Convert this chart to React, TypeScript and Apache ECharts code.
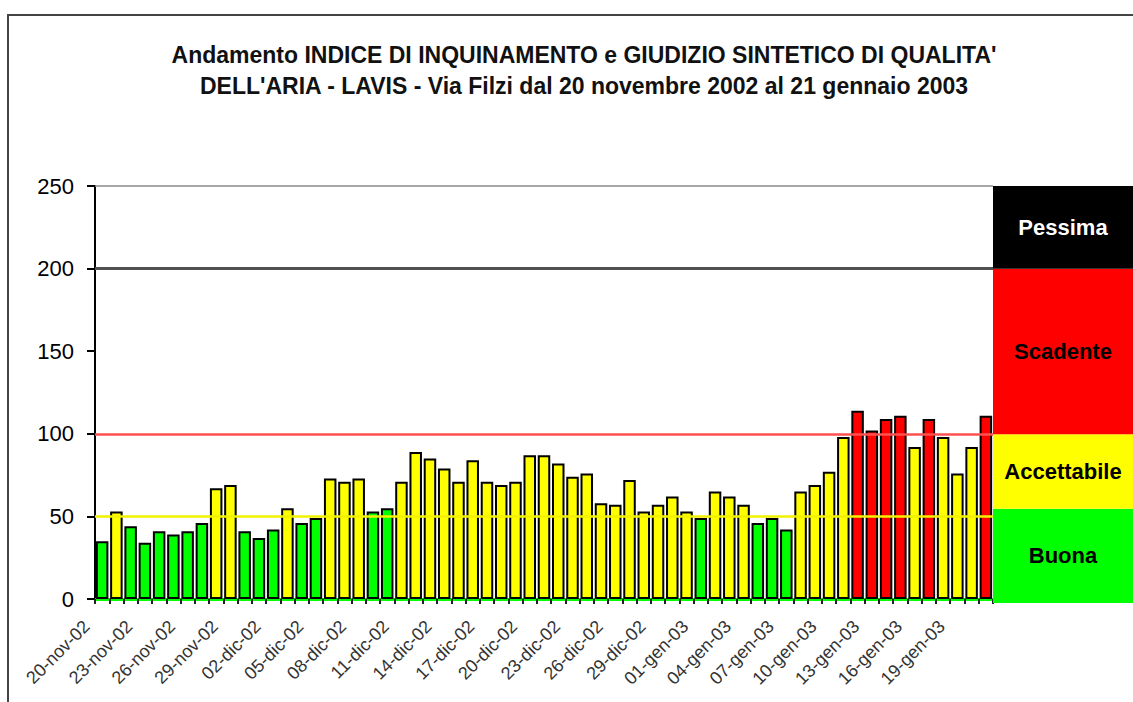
import React, { useEffect, useRef } from "react";
import * as echarts from "echarts";

const days = [
  "20-nov-02", "21-nov-02", "22-nov-02", "23-nov-02", "24-nov-02", "25-nov-02", "26-nov-02", "27-nov-02", "28-nov-02", "29-nov-02", "30-nov-02",
  "01-dic-02", "02-dic-02", "03-dic-02", "04-dic-02", "05-dic-02", "06-dic-02", "07-dic-02", "08-dic-02", "09-dic-02", "10-dic-02",
  "11-dic-02", "12-dic-02", "13-dic-02", "14-dic-02", "15-dic-02", "16-dic-02", "17-dic-02", "18-dic-02", "19-dic-02", "20-dic-02",
  "21-dic-02", "22-dic-02", "23-dic-02", "24-dic-02", "25-dic-02", "26-dic-02", "27-dic-02", "28-dic-02", "29-dic-02", "30-dic-02", "31-dic-02",
  "01-gen-03", "02-gen-03", "03-gen-03", "04-gen-03", "05-gen-03", "06-gen-03", "07-gen-03", "08-gen-03", "09-gen-03", "10-gen-03",
  "11-gen-03", "12-gen-03", "13-gen-03", "14-gen-03", "15-gen-03", "16-gen-03", "17-gen-03", "18-gen-03", "19-gen-03", "20-gen-03", "21-gen-03",
];

const indexValues = [
  35, 53, 44, 34, 41, 39, 41, 46, 67, 69, 41,
  37, 42, 55, 46, 49, 73, 71, 73, 53, 55,
  71, 89, 85, 79, 71, 84, 71, 69, 71, 87,
  87, 82, 74, 76, 58, 57, 72, 53, 57, 62, 53,
  49, 65, 62, 57, 46, 49, 42, 65, 69, 77,
  98, 114, 102, 109, 111, 92, 109, 98, 76, 92, 111,
];

// B = Buona, A = Accettabile, S = Scadente
const judgements = [
  "B", "A", "B", "B", "B", "B", "B", "B", "A", "A", "B",
  "B", "B", "A", "B", "B", "A", "A", "A", "B", "B",
  "A", "A", "A", "A", "A", "A", "A", "A", "A", "A",
  "A", "A", "A", "A", "A", "A", "A", "A", "A", "A", "A",
  "B", "A", "A", "A", "B", "B", "B", "A", "A", "A",
  "A", "S", "S", "S", "S", "A", "S", "A", "A", "A", "S",
];
const judgementColors: Record<string, string> = { B: "#00ff00", A: "#ffff00", S: "#ff0000" };

const bandNames = ["Buona", "Accettabile", "Scadente", "Pessima"];
const bandFrom = [-2, 55, 100, 200];
const bandTo = [55, 100, 200, 250];
const bandColors = ["#00ff00", "#ffff00", "#ff0000", "#000000"];
const bandTextColors = ["#000000", "#000000", "#000000", "#ffffff"];

const lineValues = [250, 200, 100, 50];
const lineColors = ["#8a8a8a", "#505050", "#ff5050", "#f2f200"];
const lineWidths = [1.5, 3, 2.5, 2.5];

const FONT = "Liberation Sans";

export default function App() {
  const ref = useRef<HTMLDivElement>(null);
  useEffect(() => {
    if (!ref.current) return;
    const chart = echarts.init(ref.current, null, { renderer: "svg" });
    const option = {
      animation: false,
      backgroundColor: "#ffffff",
      textStyle: { fontFamily: FONT },
      title: {
        text: "Andamento INDICE DI INQUINAMENTO e GIUDIZIO SINTETICO DI QUALITA'\nDELL'ARIA - LAVIS - Via Filzi dal 20 novembre 2002 al 21 gennaio 2003",
        left: 579,
        top: 34,
        textAlign: "center",
        textStyle: { fontFamily: FONT, fontSize: 23, fontWeight: "bold", color: "#111", lineHeight: 31 },
      },
      graphic: [
        {
          type: "rect",
          silent: true,
          shape: { x: 8, y: 15, width: 1150, height: 720 },
          style: { fill: "none", stroke: "#444", lineWidth: 2 },
        },
      ],
      grid: [
        { left: 95, right: 140, top: 186, bottom: 103 },
        { left: 993, right: 0, top: 186, bottom: 99 },
      ],
      xAxis: [
        {
          gridIndex: 0,
          type: "category",
          data: days,
          axisLine: { show: true, lineStyle: { color: "#00ff00", width: 3 } },
          axisTick: { show: true, interval: 0, length: 5, lineStyle: { color: "#222", width: 2 } },
          axisLabel: {
            interval: 2,
            rotate: 45,
            fontSize: 18,
            color: "#333",
            fontFamily: FONT,
            margin: 9,
            padding: [0, 22, 0, 0],
          },
          splitLine: { show: false },
        },
        { gridIndex: 1, type: "category", data: [""], show: false },
      ],
      yAxis: [
        {
          gridIndex: 0,
          type: "value",
          min: 0,
          max: 250,
          interval: 50,
          axisLine: { show: true, lineStyle: { color: "#000", width: 2 } },
          axisTick: { show: true, length: 8, lineStyle: { color: "#000", width: 2 } },
          axisLabel: { fontSize: 22, color: "#000", fontFamily: FONT, margin: 21 },
          splitLine: { show: false },
        },
        { gridIndex: 1, type: "value", min: -2, max: 250, show: false },
      ],
      series: [
        {
          type: "bar",
          xAxisIndex: 0,
          yAxisIndex: 0,
          barWidth: 12.5,
          data: indexValues.map((v, i) => ({
            value: v,
            itemStyle: { color: judgementColors[judgements[i]] },
          })),
          itemStyle: { borderColor: "#000", borderWidth: 2 },
          markLine: {
            silent: true,
            symbol: "none",
            label: { show: false },
            z: 10,
            data: lineValues.map((v, i) => ({
              yAxis: v,
              lineStyle: { color: lineColors[i], width: lineWidths[i], type: "solid" },
            })),
          },
        },
        {
          type: "line",
          xAxisIndex: 1,
          yAxisIndex: 1,
          data: [null],
          showSymbol: false,
          markArea: {
            silent: true,
            data: bandNames.map((name, i) => [
              {
                name,
                yAxis: bandFrom[i],
                itemStyle: { color: bandColors[i], opacity: 1 },
                label: {
                  show: true,
                  position: "inside",
                  color: bandTextColors[i],
                  fontSize: 22,
                  fontWeight: "bold",
                  fontFamily: FONT,
                },
              },
              { yAxis: bandTo[i] },
            ]),
          },
        },
      ],
    };
    chart.setOption(option as any);
    return () => chart.dispose();
  }, []);
  return <div ref={ref} style={{ width: 1133, height: 702, position: "absolute", left: 0, top: 0 }} />;
}
